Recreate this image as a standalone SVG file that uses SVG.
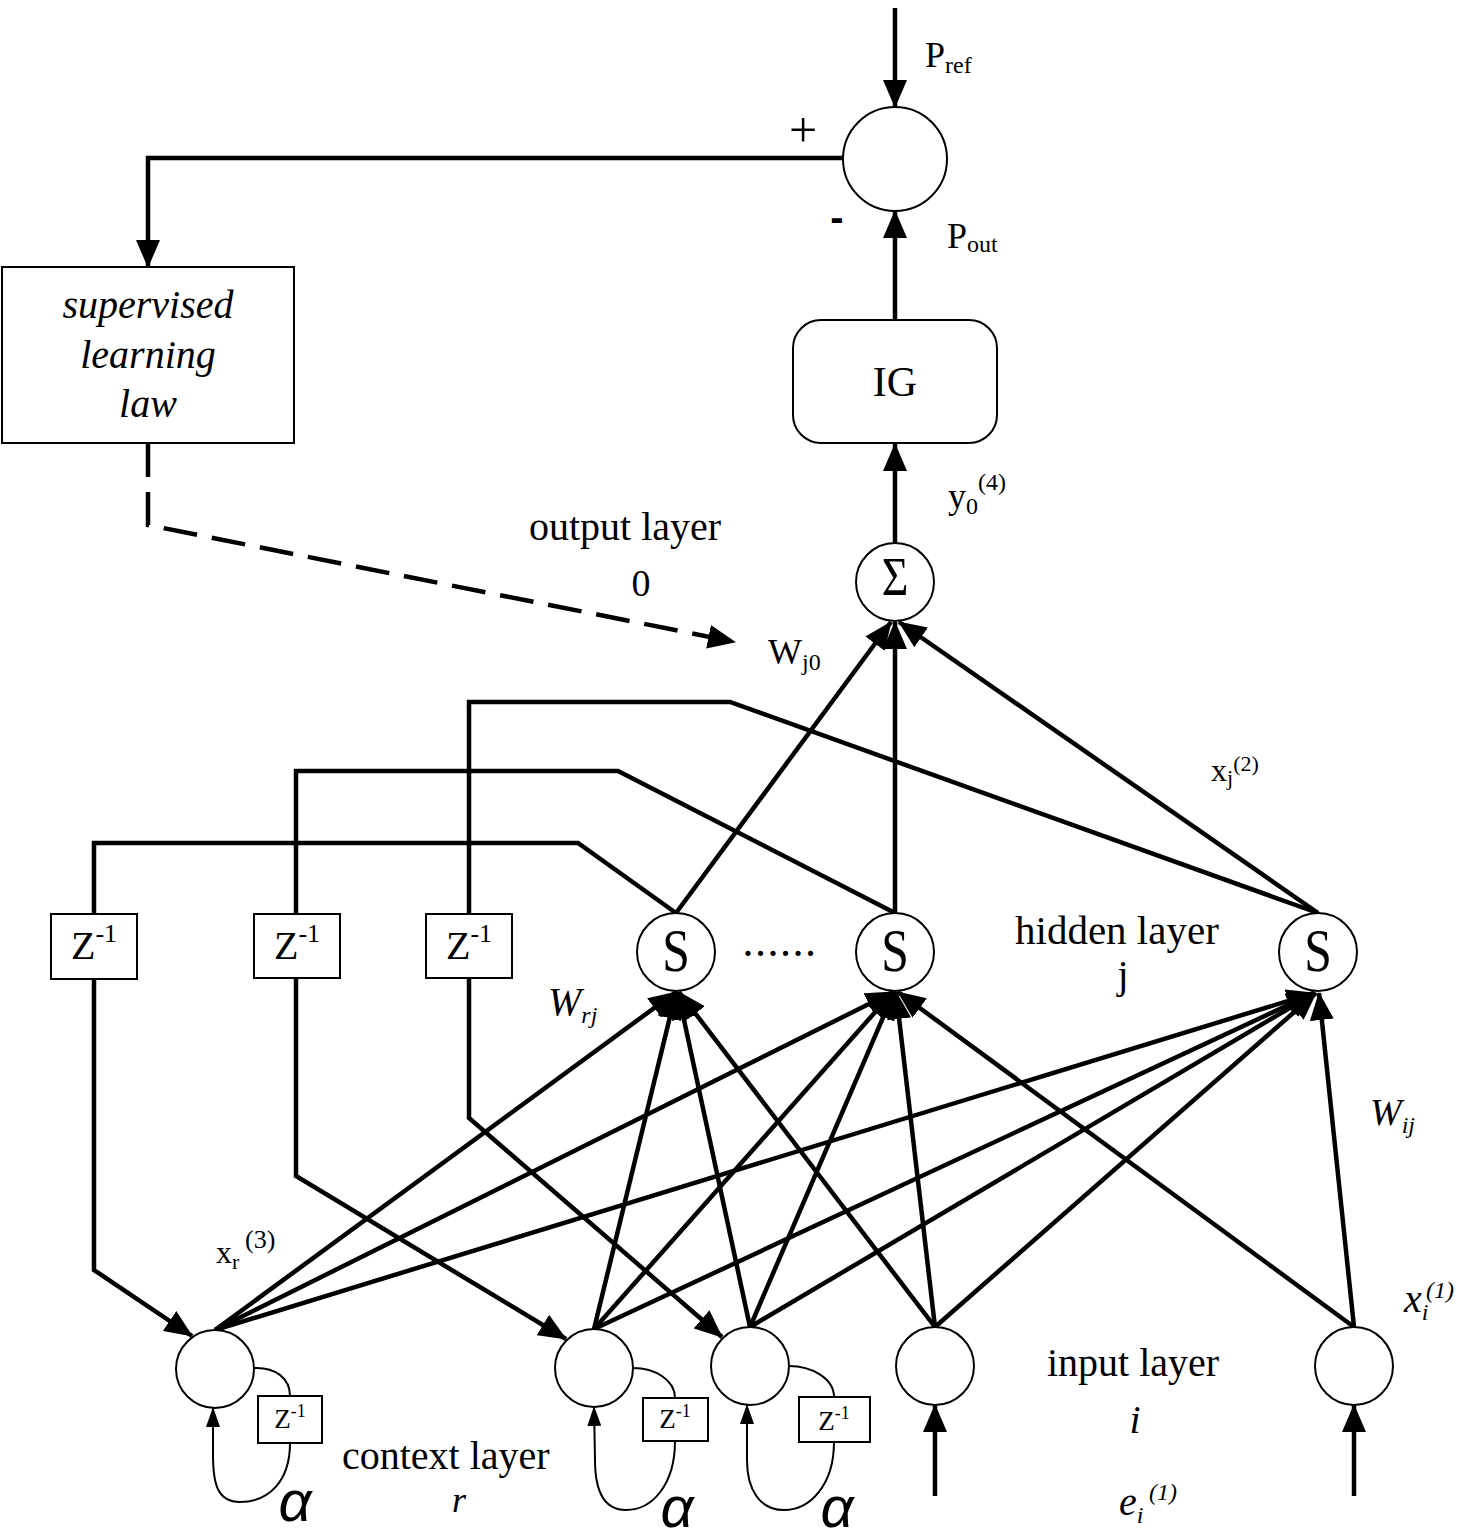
<svg xmlns="http://www.w3.org/2000/svg" width="1464" height="1536" viewBox="0 0 1464 1536">
<style>
.ln{fill:none;stroke:#000;stroke-width:4.5}
.dash{fill:none;stroke:#000;stroke-width:4.5;stroke-dasharray:34 15}
.thin{fill:none;stroke:#000;stroke-width:2}
.nd{fill:#fff;stroke:#000;stroke-width:2}
text{font-family:"Liberation Serif","Times New Roman",serif;fill:#000}
.it{font-style:italic}
.al{font-family:"Liberation Sans",Arial,sans-serif;font-style:italic;font-size:58px}
</style>
<defs>
<marker id="ah" viewBox="0 0 28 24" refX="27" refY="12" markerWidth="28" markerHeight="24" markerUnits="userSpaceOnUse" orient="auto"><path d="M0,0 L28,12 L0,24 z" fill="#000"/></marker>
<marker id="sa" viewBox="0 0 20 14" refX="19" refY="7" markerWidth="20" markerHeight="14" markerUnits="userSpaceOnUse" orient="auto"><path d="M0,0 L20,7 L0,14 z" fill="#000"/></marker>
</defs>
<rect width="1464" height="1536" fill="#fff"/>

<g id="connectors">
<path class="ln" d="M895,8 L895,107" marker-end="url(#ah)"/>
<path class="ln" d="M843,158 L148,158 L148,267" marker-end="url(#ah)"/>
<path class="ln" d="M895,320 L895,211" marker-end="url(#ah)"/>
<path class="ln" d="M895,543 L895,444" marker-end="url(#ah)"/>
<path class="dash" d="M148,443 L148,525 L735,642" marker-end="url(#ah)"/>
<path class="ln" d="M676,913 L891,622" marker-end="url(#ah)"/>
<path class="ln" d="M895,913 L895,622" marker-end="url(#ah)"/>
<path class="ln" d="M1318,913 L899,622" marker-end="url(#ah)"/>
<path class="ln" d="M676,913 L578,843 L94,843 L94,914"/>
<path class="ln" d="M895,913 L618,771 L296,771 L296,914"/>
<path class="ln" d="M1318,913 L730,702 L469,702 L469,914"/>
<path class="ln" d="M94,979 L94,1270 L192,1336" marker-end="url(#ah)"/>
<path class="ln" d="M296,978 L296,1176 L566,1339" marker-end="url(#ah)"/>
<path class="ln" d="M469,978 L469,1118 L722,1337" marker-end="url(#ah)"/>
<path class="ln" d="M215,1330 L676,992" marker-end="url(#ah)"/>
<path class="ln" d="M215,1330 L893,992" marker-end="url(#ah)"/>
<path class="ln" d="M215,1330 L1314,993" marker-end="url(#ah)"/>
<path class="ln" d="M594,1329 L676,992" marker-end="url(#ah)"/>
<path class="ln" d="M594,1329 L893,992" marker-end="url(#ah)"/>
<path class="ln" d="M594,1329 L1314,993" marker-end="url(#ah)"/>
<path class="ln" d="M750,1327 L678,992" marker-end="url(#ah)"/>
<path class="ln" d="M750,1327 L894,992" marker-end="url(#ah)"/>
<path class="ln" d="M750,1327 L1315,993" marker-end="url(#ah)"/>
<path class="ln" d="M935,1327 L679,992" marker-end="url(#ah)"/>
<path class="ln" d="M935,1327 L896,992" marker-end="url(#ah)"/>
<path class="ln" d="M935,1327 L1316,993" marker-end="url(#ah)"/>
<path class="ln" d="M1354,1327 L898,992" marker-end="url(#ah)"/>
<path class="ln" d="M1354,1327 L1319,993" marker-end="url(#ah)"/>
<path class="ln" d="M935,1496 L935,1405" marker-end="url(#ah)"/>
<path class="ln" d="M1354,1496 L1354,1405" marker-end="url(#ah)"/>
<path class="thin" d="M254,1368 C275,1367 290,1378 290,1396"/>
<path class="thin" d="M290,1443 C290,1482 268,1502 240,1502 C218,1502 213,1485 213,1455 L213,1408" marker-end="url(#sa)"/>
<path class="thin" d="M633,1368 C655,1368 675,1380 675,1398"/>
<path class="thin" d="M675,1441 C675,1485 652,1510 626,1510 C603,1510 595,1490 595,1460 L594,1407" marker-end="url(#sa)"/>
<path class="thin" d="M789,1366 C811,1366 834,1378 834,1397"/>
<path class="thin" d="M834,1442 C834,1485 810,1510 784,1510 C760,1510 747,1490 747,1460 L747,1405" marker-end="url(#sa)"/>
</g>

<g id="sum-node">
<circle class="nd" cx="895" cy="159" r="52"/>
<text x="803" y="147" font-size="50" text-anchor="middle">+</text>
<text x="837" y="231" font-size="40" text-anchor="middle" style="font-family:'Liberation Sans',Arial,sans-serif;font-weight:bold">-</text>
</g>

<g id="supervised-learning-law">
<rect class="nd" x="2" y="267" width="292" height="176"/>
<text class="it" x="148" y="318" font-size="40" text-anchor="middle">supervised</text>
<text class="it" x="148" y="368" font-size="40" text-anchor="middle">learning</text>
<text class="it" x="148" y="417" font-size="40" text-anchor="middle">law</text>
</g>

<g id="ig">
<rect class="nd" x="793" y="320" width="204" height="123" rx="28" ry="28"/>
<text x="895" y="396" font-size="42" text-anchor="middle">IG</text>
</g>

<g id="output-node">
<circle class="nd" cx="895" cy="582" r="39"/>
<text transform="translate(895,595) scale(0.85,1)" x="0" y="0" font-size="54" text-anchor="middle">Σ</text>
</g>

<g id="hidden-s1">
<circle class="nd" cx="676" cy="952" r="39"/>
<text transform="translate(676,971) scale(0.8,1)" x="0" y="0" font-size="62" text-anchor="middle">S</text>
</g>
<g id="hidden-s2">
<circle class="nd" cx="895" cy="952" r="39"/>
<text transform="translate(895,971) scale(0.8,1)" x="0" y="0" font-size="62" text-anchor="middle">S</text>
</g>
<g id="hidden-s3">
<circle class="nd" cx="1318" cy="952" r="39"/>
<text transform="translate(1318,971) scale(0.8,1)" x="0" y="0" font-size="62" text-anchor="middle">S</text>
</g>

<g id="delay-z1">
<rect class="nd" x="51" y="914" width="86" height="65"/>
<text x="94" y="959" font-size="40" text-anchor="middle">Z<tspan font-size="26" dy="-17">-1</tspan></text>
</g>
<g id="delay-z2">
<rect class="nd" x="254" y="914" width="86" height="64"/>
<text x="297" y="959" font-size="40" text-anchor="middle">Z<tspan font-size="26" dy="-17">-1</tspan></text>
</g>
<g id="delay-z3">
<rect class="nd" x="426" y="914" width="86" height="64"/>
<text x="469" y="959" font-size="40" text-anchor="middle">Z<tspan font-size="26" dy="-17">-1</tspan></text>
</g>

<g id="context-c1"><circle class="nd" cx="215" cy="1369" r="39"/></g>
<g id="context-c2"><circle class="nd" cx="594" cy="1368" r="39"/></g>
<g id="context-c3"><circle class="nd" cx="750" cy="1366" r="39"/></g>
<g id="input-i1"><circle class="nd" cx="935" cy="1366" r="39"/></g>
<g id="input-i2"><circle class="nd" cx="1354" cy="1366" r="39"/></g>

<g id="loop-delay-1">
<rect class="nd" x="258" y="1396" width="64" height="47"/>
<text x="290" y="1428" font-size="27" text-anchor="middle">Z<tspan font-size="18" dy="-11">-1</tspan></text>
</g>
<g id="loop-delay-2">
<rect class="nd" x="643" y="1398" width="65" height="43"/>
<text x="675" y="1428" font-size="27" text-anchor="middle">Z<tspan font-size="18" dy="-11">-1</tspan></text>
</g>
<g id="loop-delay-3">
<rect class="nd" x="799" y="1397" width="71" height="45"/>
<text x="834" y="1430" font-size="27" text-anchor="middle">Z<tspan font-size="18" dy="-11">-1</tspan></text>
</g>

<g id="labels">
<text x="925" y="67" font-size="36">P<tspan font-size="24" dy="6">ref</tspan></text>
<text x="947" y="248" font-size="36">P<tspan font-size="24" dy="4">out</tspan></text>
<text x="948" y="508" font-size="36">y<tspan font-size="24" dy="6">0</tspan><tspan font-size="24" dy="-24">(4)</tspan></text>
<text x="625" y="540" font-size="40" text-anchor="middle">output layer</text>
<text x="641" y="596" font-size="38" text-anchor="middle">0</text>
<text x="768" y="664" font-size="36">W<tspan font-size="24" dy="6">j0</tspan></text>
<text x="1211" y="781" font-size="32">x<tspan font-size="22" dy="4">j</tspan><tspan font-size="22" dy="-14">(2)</tspan></text>
<text x="780" y="956" font-size="44" text-anchor="middle" letter-spacing="1.5">......</text>
<text x="1015" y="944" font-size="41">hidden layer</text>
<text x="1123" y="988" font-size="40" text-anchor="middle">j</text>
<text class="it" x="548" y="1015" font-size="40">W<tspan font-size="24" dy="8">rj</tspan></text>
<text class="it" x="1370" y="1125" font-size="38">W<tspan font-size="24" dy="8">ij</tspan></text>
<text x="216" y="1263" font-size="32">x<tspan font-size="22" dy="6">r</tspan><tspan x="245" font-size="26" dy="-21">(3)</tspan></text>
<text class="it" x="1404" y="1312" font-size="40">x<tspan font-size="24" dy="8">i</tspan><tspan x="1426" font-size="24" dy="-22">(1)</tspan></text>
<text x="1047" y="1376" font-size="40">input layer</text>
<text class="it" x="1135" y="1433" font-size="40" text-anchor="middle">i</text>
<text class="it" x="1119" y="1515" font-size="40">e<tspan font-size="24" dy="8">i</tspan><tspan x="1149" font-size="24" dy="-23">(1)</tspan></text>
<text x="342" y="1469" font-size="40">context layer</text>
<text class="it" x="459" y="1512" font-size="36" text-anchor="middle">r</text>
<text class="al" x="295" y="1521" text-anchor="middle">α</text>
<text class="al" x="677" y="1527" text-anchor="middle">α</text>
<text class="al" x="837" y="1527" text-anchor="middle">α</text>
</g>
</svg>
